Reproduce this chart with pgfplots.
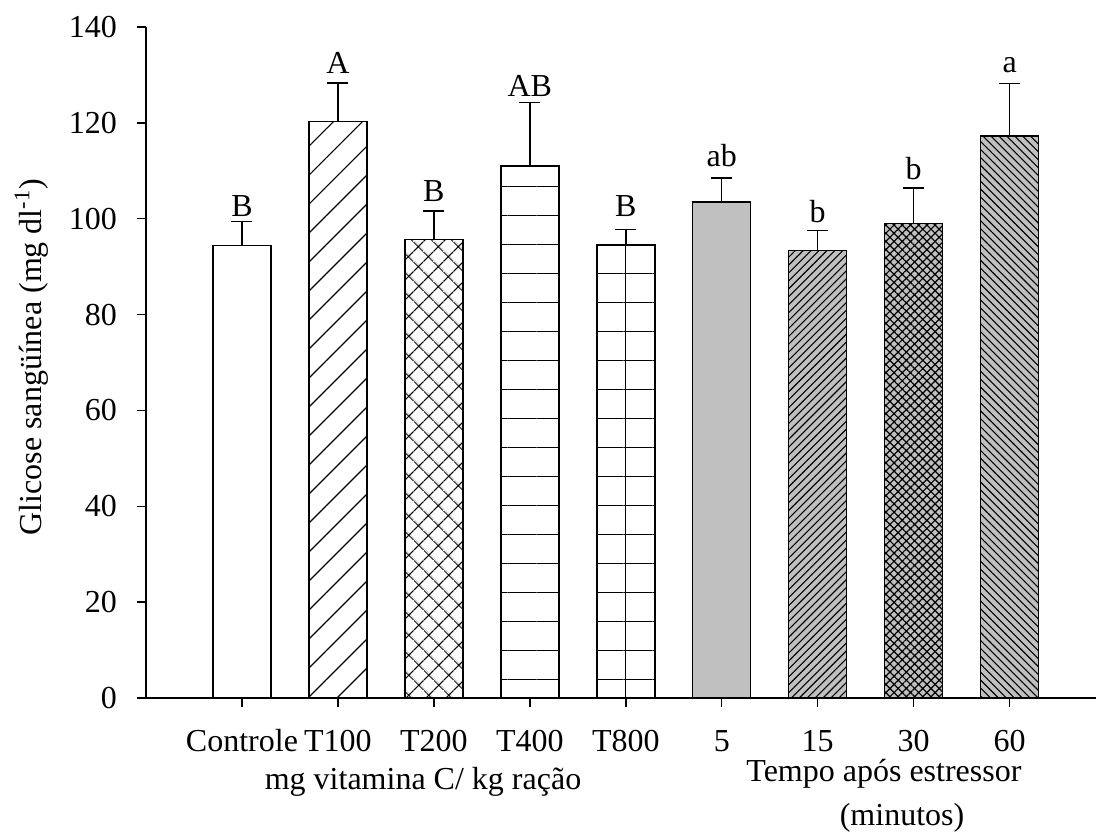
\documentclass[border=0pt]{standalone}
\usepackage{fontspec}
\setmainfont{Liberation Serif}
\usepackage{pgfplots}
\pgfplotsset{compat=1.18}
\usetikzlibrary{patterns.meta}
\definecolor{barGray}{RGB}{192,192,192}
\begin{document}
\fontsize{16}{19}\selectfont
\begin{tikzpicture}
\begin{axis}[
  scale only axis,
  width=475pt, height=335.5pt,
  xmin=-1, xmax=8.9,
  ymin=0, ymax=140,
  clip=false,
  axis x line=bottom, axis y line=left,
  axis line style={-, line width=0.7pt, black},
  tick align=outside,
  major tick length=4.5pt,
  every tick/.style={black, line width=0.7pt},
  xtick={0,1,2,3,4,5,6,7,8},
  xticklabels={Controle,T100,T200,T400,T800,5,15,30,60},
  ytick={0,20,40,60,80,100,120,140},
  /pgf/number format/assume math mode=true,
  xticklabel style={anchor=base, yshift=-22pt},
  yticklabel style={xshift=-4.5pt},
  ylabel={Glicose sangüínea (mg dl\textsuperscript{-1})},
  every axis y label/.style={at={(axis description cs:-0.1095,0.508)}, rotate=90, anchor=base},
  bar width=29pt,
  error bars/y dir=plus, error bars/y explicit,
  error bars/error bar style={black, line width=0.7pt},
  error bars/error mark options={rotate=90, mark size=5.25pt, black, line width=0.7pt},
]
% Controle
\addplot[ybar, bar shift=0pt, draw=black, line width=0.7pt, fill=white]
  coordinates {(0,94.4) +- (0,5.0)};
% T100
\addplot[ybar, bar shift=0pt, draw=black, line width=0.7pt, fill=white,
  postaction={pattern={Lines[angle=45,distance=10.25pt,line width=0.6pt]}}]
  coordinates {(1,120.3) +- (0,8.0)};
% T200
\addplot[ybar, bar shift=0pt, draw=black, line width=0.7pt, fill=white,
  postaction={pattern={Hatch[angle=45,distance=6.9pt,line width=0.6pt]}}]
  coordinates {(2,95.7) +- (0,5.9)};
% T400
\addplot[ybar, bar shift=0pt, draw=black, line width=0.7pt, fill=white,
  postaction={pattern={Lines[angle=0,distance=14.5pt,yshift=3.6pt,line width=0.6pt]}}]
  coordinates {(3,111.0) +- (0,13.2)};
% T800
\addplot[ybar, bar shift=0pt, draw=black, line width=0.7pt, fill=white,
  postaction={pattern={Lines[angle=0,distance=14.5pt,yshift=3.6pt,line width=0.6pt]}}]
  coordinates {(4,94.5) +- (0,3.3)};
\addplot[black, line width=0.6pt, no marks] coordinates {(4,0) (4,94.5)};
% 5
\addplot[ybar, bar shift=0pt, draw=black, line width=0.7pt, fill=barGray]
  coordinates {(5,103.5) +- (0,5.0)};
% 15
\addplot[ybar, bar shift=0pt, draw=black, line width=0.7pt, fill=barGray,
  postaction={pattern={Lines[angle=45,distance=2.8pt,line width=0.55pt]}}]
  coordinates {(6,93.4) +- (0,4.2)};
% 30
\addplot[ybar, bar shift=0pt, draw=black, line width=0.7pt, fill=barGray,
  postaction={pattern={Hatch[angle=45,distance=2.9pt,line width=0.6pt]}}]
  coordinates {(7,99.0) +- (0,7.4)};
% 60
\addplot[ybar, bar shift=0pt, draw=black, line width=0.7pt, fill=barGray,
  postaction={pattern={Lines[angle=-45,distance=2.8pt,line width=0.55pt]}}]
  coordinates {(8,117.3) +- (0,10.9)};
% letters
\addplot[draw=none, no marks, nodes near coords, point meta=explicit symbolic,
  nodes near coords style={anchor=base, text=black}]
  table[meta=lab] {
x y lab
0 100.5 B
1 130.2 A
2 103.5 B
3 125.6 AB
4 100.5 B
5 110.9 ab
6 99.2 b
7 108.2 b
8 130.6 a
};
\node[anchor=base] at (axis description cs:0.2916,-0.1356) {mg vitamina C/ kg ração};
\node[anchor=base] at (axis description cs:0.7768,-0.1245) {Tempo após estressor};
\node[anchor=base] at (axis description cs:0.7958,-0.1893) {(minutos)};
\end{axis}
\pgfresetboundingbox
\path ([shift={(-73pt,-67pt)}]current axis.south west) rectangle ([shift={(0pt,13.5pt)}]current axis.north east);
\end{tikzpicture}
\end{document}
